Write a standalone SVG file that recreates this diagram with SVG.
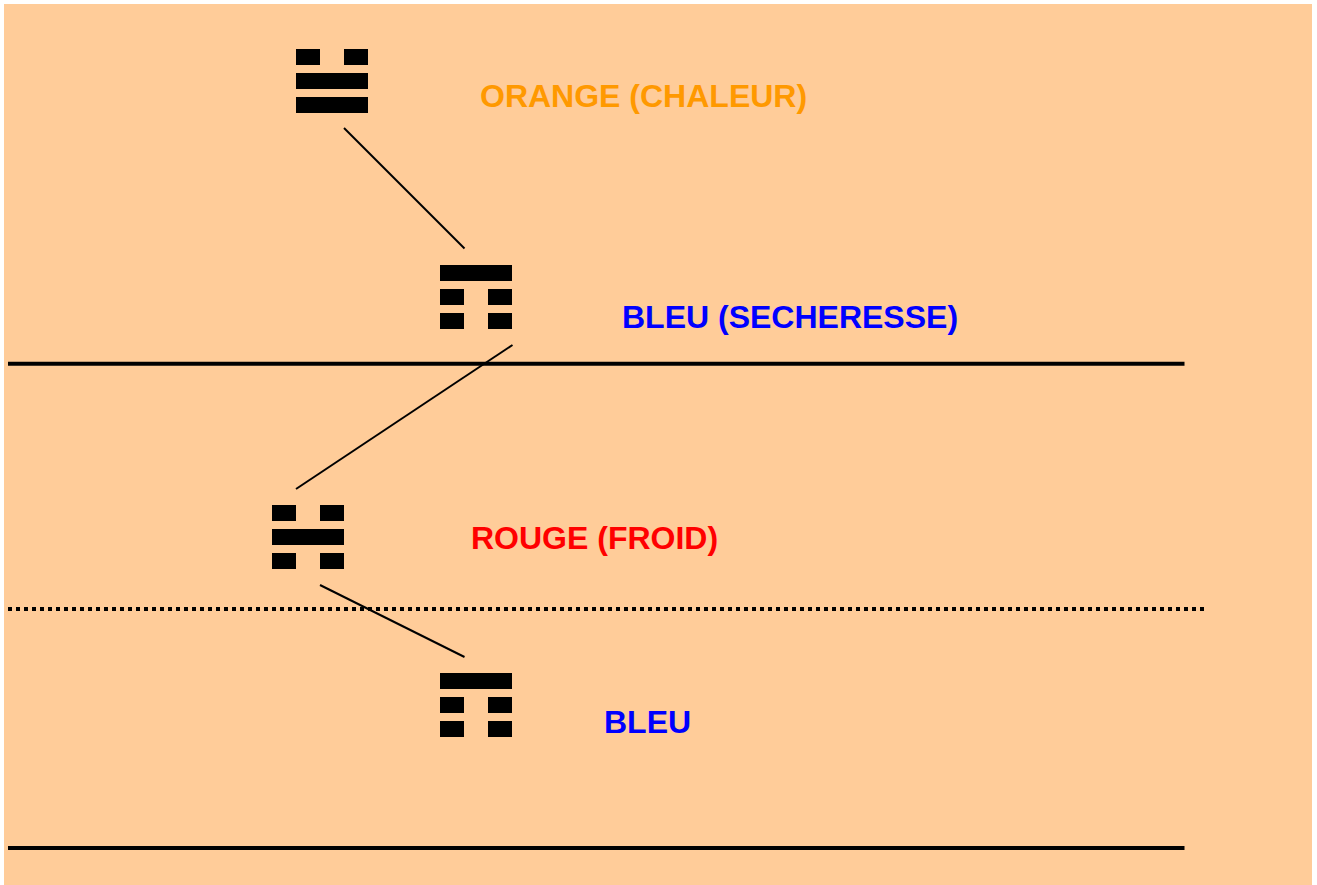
<svg xmlns="http://www.w3.org/2000/svg" width="1317" height="885" viewBox="0 0 1317 885">
<style>
.bar{fill:#000}
.thin{stroke:#000;stroke-width:2;fill:none}
.rule{stroke:#000;stroke-width:4;fill:none}
.dot{stroke-dasharray:4 4}
text{font-family:"Liberation Sans",Arial,sans-serif;font-weight:bold;font-size:32px}
</style>
<defs>
<g id="solid"><rect class="bar" width="72" height="16"/></g>
<g id="broken"><rect class="bar" width="24" height="16"/><rect class="bar" x="48" width="24" height="16"/></g>
</defs>
<rect x="0" y="0" width="1317" height="885" fill="#fff"/>
<rect x="4" y="4" width="1308" height="881" fill="#fc9"/>
<g id="connectors">
<line class="rule" x1="8" y1="363.7" x2="1184.5" y2="363.7"/>
<line class="rule dot" x1="8" y1="609" x2="1205" y2="609"/>
<line class="rule" x1="8" y1="848" x2="1184.5" y2="848"/>
<line class="thin" x1="344" y1="128" x2="464.5" y2="248.5"/>
<line class="thin" x1="512.5" y1="345" x2="296" y2="489"/>
<line class="thin" x1="320" y1="585" x2="464.5" y2="657"/>
</g>
<g id="node-orange">
<use href="#broken" x="296" y="49"/><use href="#solid" x="296" y="73"/><use href="#solid" x="296" y="97"/>
<text x="480" y="107" fill="#f90">ORANGE (CHALEUR)</text>
</g>
<g id="node-secheresse">
<use href="#solid" x="440" y="265"/><use href="#broken" x="440" y="289"/><use href="#broken" x="440" y="313"/>
<text x="622" y="328" fill="#00f">BLEU (SECHERESSE)</text>
</g>
<g id="node-rouge">
<use href="#broken" x="272" y="505"/><use href="#solid" x="272" y="529"/><use href="#broken" x="272" y="553"/>
<text x="471" y="549" fill="#f00">ROUGE (FROID)</text>
</g>
<g id="node-bleu">
<use href="#solid" x="440" y="673"/><use href="#broken" x="440" y="697"/><use href="#broken" x="440" y="721"/>
<text x="604" y="733" fill="#00f">BLEU</text>
</g>
</svg>
